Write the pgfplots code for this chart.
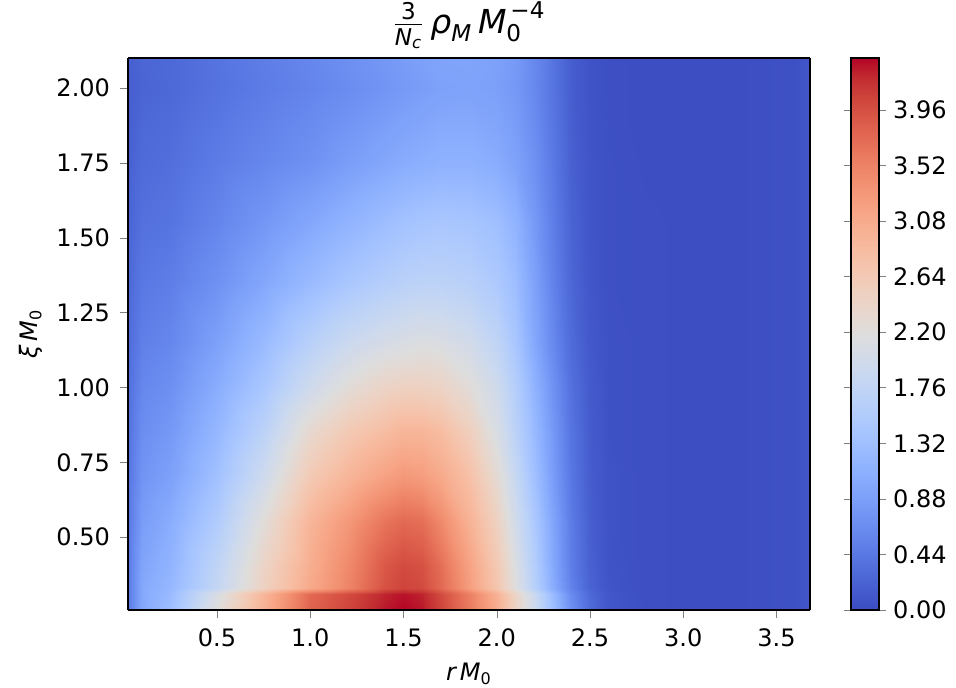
\documentclass[border=0pt]{standalone}
\usepackage{fontspec}
\setmainfont{DejaVu Sans}
\usepackage{amsmath}
\usepackage{pgfplots}
\pgfplotsset{compat=1.18}
% matplotlib coolwarm (Moreland), 33 samples
\pgfplotsset{colormap={coolwarm}{
  rgb255=(59,76,192) rgb255=(68,90,204) rgb255=(77,104,215) rgb255=(87,117,225)
  rgb255=(98,130,234) rgb255=(108,142,241) rgb255=(119,154,247) rgb255=(130,165,251)
  rgb255=(141,176,254) rgb255=(152,185,255) rgb255=(163,194,255) rgb255=(174,201,253)
  rgb255=(184,208,249) rgb255=(194,213,244) rgb255=(204,217,238) rgb255=(213,219,230)
  rgb255=(221,221,221) rgb255=(229,216,209) rgb255=(236,211,197) rgb255=(241,204,185)
  rgb255=(245,196,173) rgb255=(247,187,160) rgb255=(247,177,148) rgb255=(247,166,135)
  rgb255=(244,154,123) rgb255=(241,141,111) rgb255=(236,127,99) rgb255=(229,112,88)
  rgb255=(222,96,77) rgb255=(213,80,66) rgb255=(203,62,56) rgb255=(192,40,47)
  rgb255=(180,4,38)}}

\begin{document}
\begin{tikzpicture}[font=\fontsize{12}{14}\selectfont, /pgf/number format/assume math mode=true]
\begin{axis}[
    name=main,
    view={0}{90},
    scale only axis,
    width=341pt, height=276pt,
    xmin=0.023, xmax=3.68,
    ymin=0.257, ymax=2.1,
    colormap name=coolwarm,
    point meta min=0, point meta max=4.37,
    tick align=outside,
    tick pos=left,
    major tick length=4pt,
    axis line style={line width=0.6pt},
    xtick={0.5,1.0,1.5,2.0,2.5,3.0,3.5},
    ytick={0.5,0.75,1.0,1.25,1.5,1.75,2.0},
    xticklabel style={yshift=-2pt, /pgf/number format/.cd, fixed, fixed zerofill, precision=1},
    yticklabel style={xshift=-1.5pt, /pgf/number format/.cd, fixed, fixed zerofill, precision=2},
    xlabel={\textit{r\,M}\textsubscript{0}},
    ylabel={\textit{ξ\,M}\textsubscript{0}},
    xlabel style={yshift=-1pt},
    title={$\frac{\text{3}}{\textit{N}_{\textit{c}}}\,\textit{ρ}_{\textit{M}}\,\textit{M}_{\text{0}}^{\,\text{−4}}$},
    title style={yshift=-5pt, font=\fontsize{16.5}{19}\selectfont},
    colorbar,
    colorbar style={
        at={(parent axis.north east)}, anchor=north west, xshift=12pt,
        scale only axis, width=14pt, height=276pt,
        ytick={0,0.44,0.88,1.32,1.76,2.2,2.64,3.08,3.52,3.96},
        yticklabel style={/pgf/number format/.cd, fixed, fixed zerofill, precision=2},
        tick align=outside, major tick length=3.5pt,
        axis line style={line width=0.6pt},
    },
]
\addplot3[surf, shader=interp, mesh/cols=24, mesh/rows=14] coordinates {
(0.023,0.257,0.45) (0.1,0.257,1.0) (0.25,0.257,1.3) (0.5,0.257,2.2) (0.75,0.257,3.0) (1.0,0.257,3.8) (1.2,0.257,4.05) (1.4,0.257,4.3) (1.5,0.257,4.37) (1.6,0.257,4.3) (1.7,0.257,4.05) (1.85,0.257,3.6) (2.0,0.257,3.05) (2.1,0.257,2.5) (2.2,0.257,1.95) (2.3,0.257,1.3) (2.4,0.257,0.7) (2.5,0.257,0.3) (2.6,0.257,0.1) (2.8,0.257,0.03) (3.0,0.257,0.02) (3.3,0.257,0.02) (3.6,0.257,0.05) (3.68,0.257,0.1)
(0.023,0.31,0.45) (0.1,0.31,1.0) (0.25,0.31,1.25) (0.5,0.31,2.1) (0.75,0.31,2.95) (1.0,0.31,3.75) (1.2,0.31,4.0) (1.4,0.31,4.25) (1.5,0.31,4.32) (1.6,0.31,4.25) (1.7,0.31,4.0) (1.85,0.31,3.55) (2.0,0.31,3.0) (2.1,0.31,2.45) (2.2,0.31,1.9) (2.3,0.31,1.25) (2.4,0.31,0.65) (2.5,0.31,0.28) (2.6,0.31,0.1) (2.8,0.31,0.03) (3.0,0.31,0.02) (3.3,0.31,0.02) (3.6,0.31,0.05) (3.68,0.31,0.1)
(0.023,0.33,0.45) (0.1,0.33,1.0) (0.25,0.33,1.2) (0.5,0.33,1.8) (0.75,0.33,2.5) (1.0,0.33,3.1) (1.2,0.33,3.5) (1.4,0.33,3.95) (1.5,0.33,4.05) (1.6,0.33,4.0) (1.7,0.33,3.75) (1.85,0.33,3.25) (2.0,0.33,2.7) (2.1,0.33,2.2) (2.2,0.33,1.65) (2.3,0.33,1.05) (2.4,0.33,0.55) (2.5,0.33,0.22) (2.6,0.33,0.08) (2.8,0.33,0.03) (3.0,0.33,0.02) (3.3,0.33,0.02) (3.6,0.33,0.05) (3.68,0.33,0.1)
(0.023,0.4,0.45) (0.1,0.4,0.95) (0.25,0.4,1.15) (0.5,0.4,1.75) (0.75,0.4,2.45) (1.0,0.4,3.05) (1.2,0.4,3.45) (1.4,0.4,3.9) (1.5,0.4,4.0) (1.6,0.4,3.95) (1.7,0.4,3.7) (1.85,0.4,3.2) (2.0,0.4,2.65) (2.1,0.4,2.15) (2.2,0.4,1.6) (2.3,0.4,1.0) (2.4,0.4,0.5) (2.5,0.4,0.2) (2.6,0.4,0.07) (2.8,0.4,0.03) (3.0,0.4,0.02) (3.3,0.4,0.02) (3.6,0.4,0.05) (3.68,0.4,0.1)
(0.023,0.55,0.42) (0.1,0.55,0.85) (0.25,0.55,1.05) (0.5,0.55,1.55) (0.75,0.55,2.25) (1.0,0.55,2.95) (1.2,0.55,3.3) (1.4,0.55,3.65) (1.5,0.55,3.75) (1.6,0.55,3.7) (1.7,0.55,3.45) (1.85,0.55,3.0) (2.0,0.55,2.5) (2.1,0.55,2.0) (2.2,0.55,1.5) (2.3,0.55,0.95) (2.4,0.55,0.48) (2.5,0.55,0.18) (2.6,0.55,0.06) (2.8,0.55,0.03) (3.0,0.55,0.02) (3.3,0.55,0.02) (3.6,0.55,0.05) (3.68,0.55,0.1)
(0.023,0.7,0.4) (0.1,0.7,0.75) (0.25,0.7,0.9) (0.5,0.7,1.35) (0.75,0.7,1.95) (1.0,0.7,2.65) (1.2,0.7,2.95) (1.4,0.7,3.2) (1.5,0.7,3.3) (1.6,0.7,3.25) (1.7,0.7,3.1) (1.85,0.7,2.8) (2.0,0.7,2.3) (2.1,0.7,1.85) (2.2,0.7,1.35) (2.3,0.7,0.85) (2.4,0.7,0.43) (2.5,0.7,0.16) (2.6,0.7,0.06) (2.8,0.7,0.03) (3.0,0.7,0.02) (3.3,0.7,0.02) (3.6,0.7,0.05) (3.68,0.7,0.1)
(0.023,0.85,0.37) (0.1,0.85,0.68) (0.25,0.85,0.8) (0.5,0.85,1.2) (0.75,0.85,1.7) (1.0,0.85,2.35) (1.2,0.85,2.65) (1.4,0.85,2.85) (1.5,0.85,2.95) (1.6,0.85,2.95) (1.7,0.85,2.85) (1.85,0.85,2.55) (2.0,0.85,2.1) (2.1,0.85,1.7) (2.2,0.85,1.25) (2.3,0.85,0.8) (2.4,0.85,0.4) (2.5,0.85,0.15) (2.6,0.85,0.05) (2.8,0.85,0.03) (3.0,0.85,0.02) (3.3,0.85,0.02) (3.6,0.85,0.05) (3.68,0.85,0.1)
(0.023,1.0,0.34) (0.1,1.0,0.6) (0.25,1.0,0.7) (0.5,1.0,1.05) (0.75,1.0,1.45) (1.0,1.0,1.95) (1.2,1.0,2.25) (1.4,1.0,2.45) (1.5,1.0,2.5) (1.6,1.0,2.5) (1.7,1.0,2.45) (1.85,1.0,2.25) (2.0,1.0,1.95) (2.1,1.0,1.6) (2.2,1.0,1.15) (2.3,1.0,0.72) (2.4,1.0,0.36) (2.5,1.0,0.14) (2.6,1.0,0.05) (2.8,1.0,0.03) (3.0,1.0,0.02) (3.3,1.0,0.02) (3.6,1.0,0.05) (3.68,1.0,0.1)
(0.023,1.15,0.3) (0.1,1.15,0.52) (0.25,1.15,0.6) (0.5,1.15,0.9) (0.75,1.15,1.25) (1.0,1.15,1.65) (1.2,1.15,1.9) (1.4,1.15,2.05) (1.5,1.15,2.1) (1.6,1.15,2.15) (1.7,1.15,2.12) (1.85,1.15,2.0) (2.0,1.15,1.75) (2.1,1.15,1.45) (2.2,1.15,1.0) (2.3,1.15,0.62) (2.4,1.15,0.3) (2.5,1.15,0.12) (2.6,1.15,0.05) (2.8,1.15,0.03) (3.0,1.15,0.02) (3.3,1.15,0.02) (3.6,1.15,0.05) (3.68,1.15,0.1)
(0.023,1.35,0.27) (0.1,1.35,0.44) (0.25,1.35,0.5) (0.5,1.35,0.72) (0.75,1.35,0.98) (1.0,1.35,1.25) (1.2,1.35,1.45) (1.4,1.35,1.6) (1.5,1.35,1.66) (1.6,1.35,1.7) (1.7,1.35,1.7) (1.85,1.35,1.65) (2.0,1.35,1.5) (2.1,1.35,1.3) (2.2,1.35,0.92) (2.3,1.35,0.55) (2.4,1.35,0.26) (2.5,1.35,0.1) (2.6,1.35,0.04) (2.8,1.35,0.03) (3.0,1.35,0.02) (3.3,1.35,0.02) (3.6,1.35,0.05) (3.68,1.35,0.1)
(0.023,1.55,0.23) (0.1,1.55,0.36) (0.25,1.55,0.4) (0.5,1.55,0.58) (0.75,1.55,0.78) (1.0,1.55,0.98) (1.2,1.55,1.15) (1.4,1.55,1.3) (1.5,1.55,1.37) (1.6,1.55,1.42) (1.7,1.55,1.45) (1.85,1.55,1.42) (2.0,1.55,1.32) (2.1,1.55,1.15) (2.2,1.55,0.82) (2.3,1.55,0.5) (2.4,1.55,0.23) (2.5,1.55,0.09) (2.6,1.55,0.04) (2.8,1.55,0.03) (3.0,1.55,0.02) (3.3,1.55,0.02) (3.6,1.55,0.05) (3.68,1.55,0.1)
(0.023,1.75,0.2) (0.1,1.75,0.3) (0.25,1.75,0.34) (0.5,1.75,0.48) (0.75,1.75,0.6) (1.0,1.75,0.72) (1.2,1.75,0.86) (1.4,1.75,0.98) (1.5,1.75,1.04) (1.6,1.75,1.08) (1.7,1.75,1.12) (1.85,1.75,1.12) (2.0,1.75,1.04) (2.1,1.75,0.92) (2.2,1.75,0.72) (2.3,1.75,0.45) (2.4,1.75,0.2) (2.5,1.75,0.08) (2.6,1.75,0.04) (2.8,1.75,0.02) (3.0,1.75,0.02) (3.3,1.75,0.02) (3.6,1.75,0.05) (3.68,1.75,0.1)
(0.023,2.0,0.16) (0.1,2.0,0.24) (0.25,2.0,0.27) (0.5,2.0,0.38) (0.75,2.0,0.48) (1.0,2.0,0.57) (1.2,2.0,0.66) (1.4,2.0,0.76) (1.5,2.0,0.81) (1.6,2.0,0.86) (1.7,2.0,0.9) (1.85,2.0,0.92) (2.0,2.0,0.88) (2.1,2.0,0.8) (2.2,2.0,0.62) (2.3,2.0,0.4) (2.4,2.0,0.17) (2.5,2.0,0.07) (2.6,2.0,0.03) (2.8,2.0,0.02) (3.0,2.0,0.02) (3.3,2.0,0.02) (3.6,2.0,0.05) (3.68,2.0,0.1)
(0.023,2.1,0.18) (0.1,2.1,0.25) (0.25,2.1,0.28) (0.5,2.1,0.4) (0.75,2.1,0.5) (1.0,2.1,0.6) (1.2,2.1,0.7) (1.4,2.1,0.8) (1.5,2.1,0.85) (1.6,2.1,0.9) (1.7,2.1,0.94) (1.85,2.1,0.95) (2.0,2.1,0.9) (2.1,2.1,0.82) (2.2,2.1,0.62) (2.3,2.1,0.4) (2.4,2.1,0.17) (2.5,2.1,0.07) (2.6,2.1,0.03) (2.8,2.1,0.02) (3.0,2.1,0.02) (3.3,2.1,0.02) (3.6,2.1,0.05) (3.68,2.1,0.1)
};
\end{axis}
\pgfresetboundingbox
\path (main.south west) ++(-64pt,-38.5pt) rectangle ++(478pt,343.5pt);
\end{tikzpicture}
\end{document}
